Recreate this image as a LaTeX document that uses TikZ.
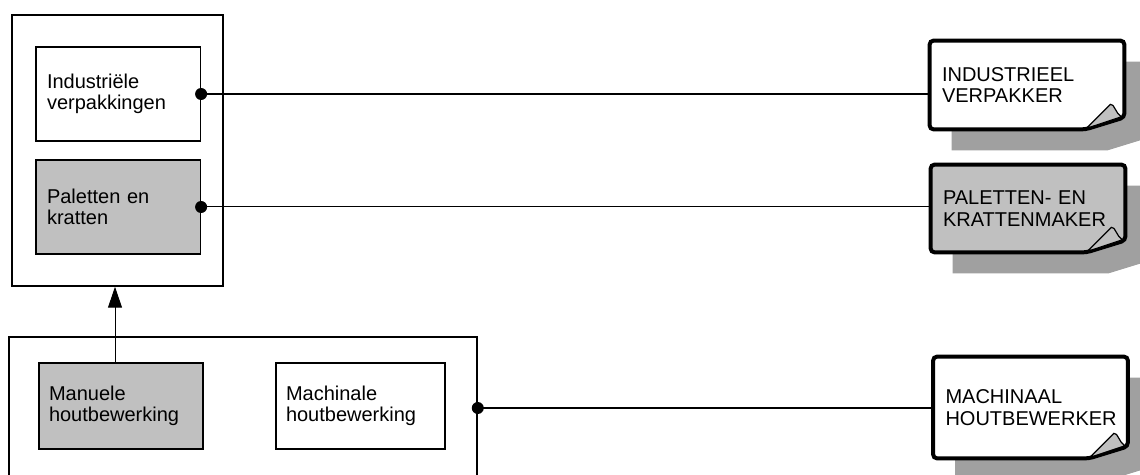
\documentclass[tikz,border=0pt]{standalone}
\usepackage{fontspec}
\setmainfont{Liberation Sans}
\usetikzlibrary{arrows.meta,backgrounds}
\definecolor{boxgray}{RGB}{192,192,192}
\definecolor{shadowgray}{RGB}{160,160,160}

\newcommand{\labelfont}{\fontsize{10}{10.75}\selectfont}

% page with shadow and curled corner behind a named node
\newcommand{\notepage}[2]{%
  \begin{scope}[on background layer]
    \fill[shadowgray] ([shift={(11pt,-10.5pt)}]#1.south west) -- ([shift={(11pt,-10.5pt)}]#1.north west)
      -- ([shift={(11pt,-10.5pt)}]#1.north east) -- ([shift={(11pt,-4.5pt)}]#1.south east)
      -- ([shift={(-8.5pt,-10.5pt)}]#1.south east) -- cycle;
    \draw[line width=2pt, rounded corners=2pt, fill=#2] (#1.south west) -- (#1.north west)
      -- (#1.north east) -- ([yshift=6pt]#1.south east) -- ([xshift=-19.5pt]#1.south east) -- cycle;
    \draw[line width=0.6pt, fill=boxgray] ([shift={(-19pt,0.5pt)}]#1.south east)
      -- ([shift={(-7pt,12.5pt)}]#1.south east)
      .. controls ([shift={(-5pt,13pt)}]#1.south east) and ([shift={(-4.5pt,8pt)}]#1.south east)
      .. ([shift={(-1.5pt,6.3pt)}]#1.south east) -- cycle;
  \end{scope}}

\begin{document}
\begin{tikzpicture}[
    x=0.5pt, y=-0.5pt,
    frame/.style={draw, line width=0.75pt},
    unit/.style={draw, line width=0.6pt, align=left, inner xsep=5.5pt, font=\labelfont},
    filled/.style={fill=boxgray},
    note/.style={inner xsep=6pt, align=left, font=\labelfont,
                 text width=85pt, minimum width=97pt},
    link/.style={line width=0.6pt},
    flow/.style={-{Triangle[length=10.5pt, width=7pt]}, line width=0.5pt},
  ]

  \useasboundingbox (0,0) rectangle (1140,475);

  % --- Products ---
  \node[frame, minimum width=105.5pt, minimum height=135.5pt] (products) at (117.5,150.5) {};
  \node[unit, text width=71.25pt, minimum height=47pt] (indpack) at (118.25,94)
    {Industriële\\verpakkingen};
  \node[unit, filled, text width=71.25pt, minimum height=47pt] (pallets) at (118.25,207)
    {Paletten en\\kratten};

  % --- Processes ---
  \node[frame, minimum width=234pt, minimum height=71pt] (processes) at (243,408) {};
  \node[unit, filled, inner xsep=5pt, text width=72pt, minimum height=43pt] (manual) at (121,406)
    {Manuele\\houtbewerking};
  \node[unit, inner xsep=5pt, text width=74.5pt, minimum height=43pt] (machine) at (360.5,406)
    {Machinale\\houtbewerking};

  % --- Professions ---
  \node[note, minimum height=44pt] (packer) at (1027,85) {INDUSTRIEEL\\VERPAKKER};
  \node[note, minimum height=43.5pt] (palletmaker) at (1028,208.5) {PALETTEN- EN\\KRATTENMAKER};
  \node[note, minimum height=50.5pt] (woodworker) at (1030.5,407.5) {MACHINAAL\\HOUTBEWERKER};
  \notepage{packer}{white}
  \notepage{palletmaker}{boxgray}
  \notepage{woodworker}{white}

  % Connectors
  \draw[link] (indpack.east) -- (indpack.east -| packer.west);
  \draw[link, line width=0.5pt] (pallets.east) -- (pallets.east -| palletmaker.west);
  \draw[link] (processes.east) -- (processes.east -| woodworker.west);
  \foreach \n in {indpack, pallets, processes} {
    \fill (\n.east) circle (3pt);
  }
  \draw[flow] ([xshift=-3pt]manual.north) -- ([xshift=-3pt]manual.north |- products.south);

\end{tikzpicture}
\end{document}
